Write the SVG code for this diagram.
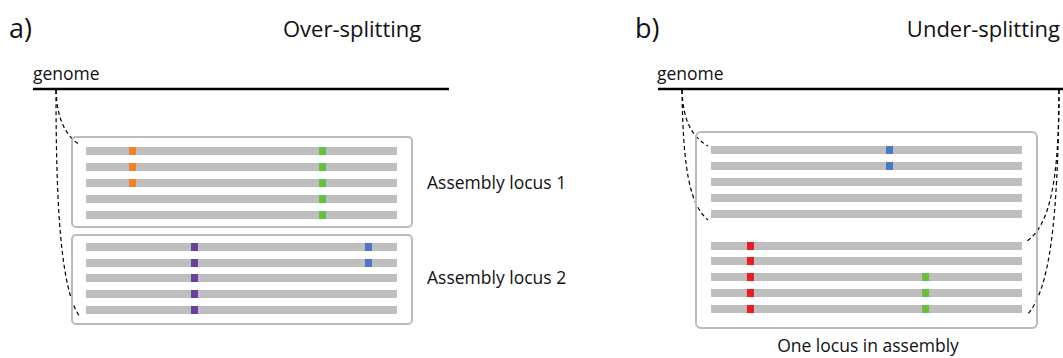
<svg xmlns="http://www.w3.org/2000/svg" width="1063" height="358" viewBox="0 0 1063 358">
<style>
text{font-family:"Open Sans","Liberation Sans",sans-serif;fill:#111}
.lbl{font-size:27px}
.ttl{font-size:22px}
.txt{font-size:17.5px}
.gen{stroke:#000;stroke-width:2.5}
.box{fill:none;stroke:#bbb;stroke-width:2}
.read{fill:#bebebe}
.dash{fill:none;stroke:#000;stroke-width:1.2;stroke-dasharray:4 3}
.or{fill:#f58220}.gr{fill:#66c23a}.pu{fill:#6a3fa0}.bl{fill:#4a78c4}.rd{fill:#ec1c24}
</style>
<text class="lbl" x="9" y="38">a)</text>
<text class="ttl" x="283" y="37">Over-splitting</text>
<text class="lbl" x="635" y="38">b)</text>
<text class="ttl" x="1060" y="37" text-anchor="end">Under-splitting</text>

<g id="genome-a"><text class="txt" x="33" y="80">genome</text><line class="gen" x1="33" y1="89" x2="449" y2="89"/></g>
<g id="genome-b"><text class="txt" x="657" y="80">genome</text><line class="gen" x1="658" y1="89" x2="1063" y2="89"/></g>

<g id="connectors">
<path class="dash" d="M56,90 C57,120 66,136 80,145"/>
<path class="dash" d="M56,90 C56,200 60,290 80,317"/>
<path class="dash" d="M682,90 C683,120 691,136 708,146"/>
<path class="dash" d="M682,90 C683,170 690,205 708,220"/>
<path class="dash" d="M1059,90 C1059,180 1050,225 1027,241"/>
<path class="dash" d="M1059,90 C1058,220 1050,290 1027,315"/>
</g>

<g id="locus1">
<rect class="box" x="72" y="137" width="340" height="90" rx="4"/>
<rect class="read" x="86" y="147" width="311" height="8"/>
<rect class="read" x="86" y="163" width="311" height="8"/>
<rect class="read" x="86" y="179" width="311" height="8"/>
<rect class="read" x="86" y="195" width="311" height="8"/>
<rect class="read" x="86" y="211" width="311" height="8"/>
<rect class="or" x="129" y="147" width="7" height="8"/>
<rect class="or" x="129" y="163" width="7" height="8"/>
<rect class="or" x="129" y="179" width="7" height="8"/>
<rect class="gr" x="319" y="147" width="7" height="8"/>
<rect class="gr" x="319" y="163" width="7" height="8"/>
<rect class="gr" x="319" y="179" width="7" height="8"/>
<rect class="gr" x="319" y="195" width="7" height="8"/>
<rect class="gr" x="319" y="211" width="7" height="8"/>
<text class="txt" x="427" y="189">Assembly locus 1</text>
</g>

<g id="locus2">
<rect class="box" x="72" y="235" width="340" height="89" rx="4"/>
<rect class="read" x="86" y="243" width="311" height="8"/>
<rect class="read" x="86" y="259" width="311" height="8"/>
<rect class="read" x="86" y="274" width="311" height="8"/>
<rect class="read" x="86" y="290" width="311" height="8"/>
<rect class="read" x="86" y="306" width="311" height="8"/>
<rect class="pu" x="191" y="243" width="7" height="8"/>
<rect class="pu" x="191" y="259" width="7" height="8"/>
<rect class="pu" x="191" y="274" width="7" height="8"/>
<rect class="pu" x="191" y="290" width="7" height="8"/>
<rect class="pu" x="191" y="306" width="7" height="8"/>
<rect class="bl" x="365" y="243" width="7" height="8"/>
<rect class="bl" x="365" y="259" width="7" height="8"/>
<text class="txt" x="427" y="284">Assembly locus 2</text>
</g>

<g id="locus-b">
<rect class="box" x="696" y="132" width="341" height="196" rx="5"/>
<rect class="read" x="711" y="146" width="311" height="8"/>
<rect class="read" x="711" y="162" width="311" height="8"/>
<rect class="read" x="711" y="178" width="311" height="8"/>
<rect class="read" x="711" y="194" width="311" height="8"/>
<rect class="read" x="711" y="210" width="311" height="8"/>
<rect class="read" x="711" y="242" width="311" height="8"/>
<rect class="read" x="711" y="257" width="311" height="8"/>
<rect class="read" x="711" y="273" width="311" height="8"/>
<rect class="read" x="711" y="289" width="311" height="8"/>
<rect class="read" x="711" y="305" width="311" height="8"/>
<rect class="bl" x="886" y="146" width="7" height="8"/>
<rect class="bl" x="886" y="162" width="7" height="8"/>
<rect class="rd" x="747" y="242" width="7" height="8"/>
<rect class="rd" x="747" y="257" width="7" height="8"/>
<rect class="rd" x="747" y="273" width="7" height="8"/>
<rect class="rd" x="747" y="289" width="7" height="8"/>
<rect class="rd" x="747" y="305" width="7" height="8"/>
<rect class="gr" x="922" y="273" width="7" height="8"/>
<rect class="gr" x="922" y="289" width="7" height="8"/>
<rect class="gr" x="922" y="305" width="7" height="8"/>
<text class="txt" x="868" y="352" text-anchor="middle">One locus in assembly</text>
</g>
</svg>
